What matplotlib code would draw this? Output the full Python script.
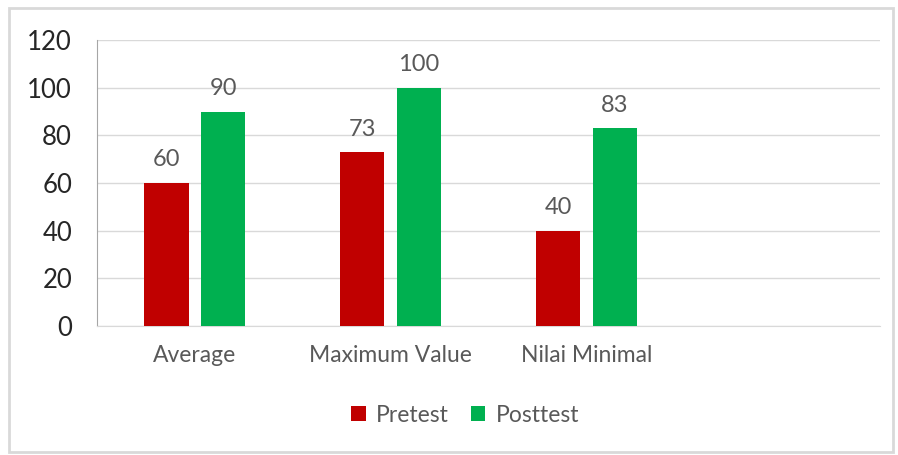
import matplotlib
matplotlib.use("Agg")
import matplotlib.pyplot as plt
from matplotlib.patches import Rectangle
import numpy as np

categories = ["Average", "Maximum Value", "Nilai Minimal", ""]
pretest = [60, 73, 40, None]
posttest = [90, 100, 83, None]
series_names = ["Pretest", "Posttest"]
colors = ["#C00000", "#00B050"]
yticks = [0, 20, 40, 60, 80, 100, 120]

plt.rcParams['font.family'] = ['Lato', 'DejaVu Sans']

fig = plt.figure(figsize=(8.98, 4.55), dpi=100)
ax = fig.add_axes([97/898, 1-326/455, (880-97)/898, (326-40)/455])

x = np.arange(len(categories))
w = 0.225
off = 0.145
for vals, sign, col, name in [(pretest, -1, colors[0], series_names[0]), (posttest, 1, colors[1], series_names[1])]:
    xs = [xi + sign*off for xi, v in zip(x, vals) if v is not None]
    vs = [v for v in vals if v is not None]
    bars = ax.bar(xs, vs, width=w, color=col, label=name, zorder=3)
    for b, v in zip(bars, vs):
        ax.annotate(f"{v}", (b.get_x()+b.get_width()/2, v), xytext=(0, 9), textcoords="offset points",
                    ha="center", va="bottom", fontsize=17, color="#595959")

ax.set_xlim(-0.5, len(categories)-0.5)
ax.set_ylim(0, 120)
ax.set_yticks(yticks)
ax.set_yticklabels([str(t) for t in yticks], fontsize=18.5, color="#262626")
ax.set_xticks(x)
ax.set_xticklabels(categories, fontsize=16.5, color="#595959")
ax.tick_params(axis="both", length=0)
ax.tick_params(axis="y", pad=18)
ax.tick_params(axis="x", pad=14)
ax.grid(axis="y", color="#D9D9D9", linewidth=1, zorder=0)
for s in ["top", "right"]:
    ax.spines[s].set_visible(False)
ax.spines["bottom"].set_color("#D9D9D9")
ax.spines["left"].set_color("#A6A6A6")

leg = fig.legend(loc="center", bbox_to_anchor=(465/898, 1-415/455), ncol=2, frameon=False,
                 fontsize=16.5, handlelength=0.65, handleheight=0.65, handletextpad=0.45, columnspacing=0.95)
for t in leg.get_texts():
    t.set_color("#595959")

fig.patches.append(Rectangle((9/898, 1-452/455), (893-9)/898, (452-8)/455, transform=fig.transFigure,
                             fill=False, edgecolor="#D9D9D9", linewidth=2))

fig.savefig("out.png", dpi=100)
